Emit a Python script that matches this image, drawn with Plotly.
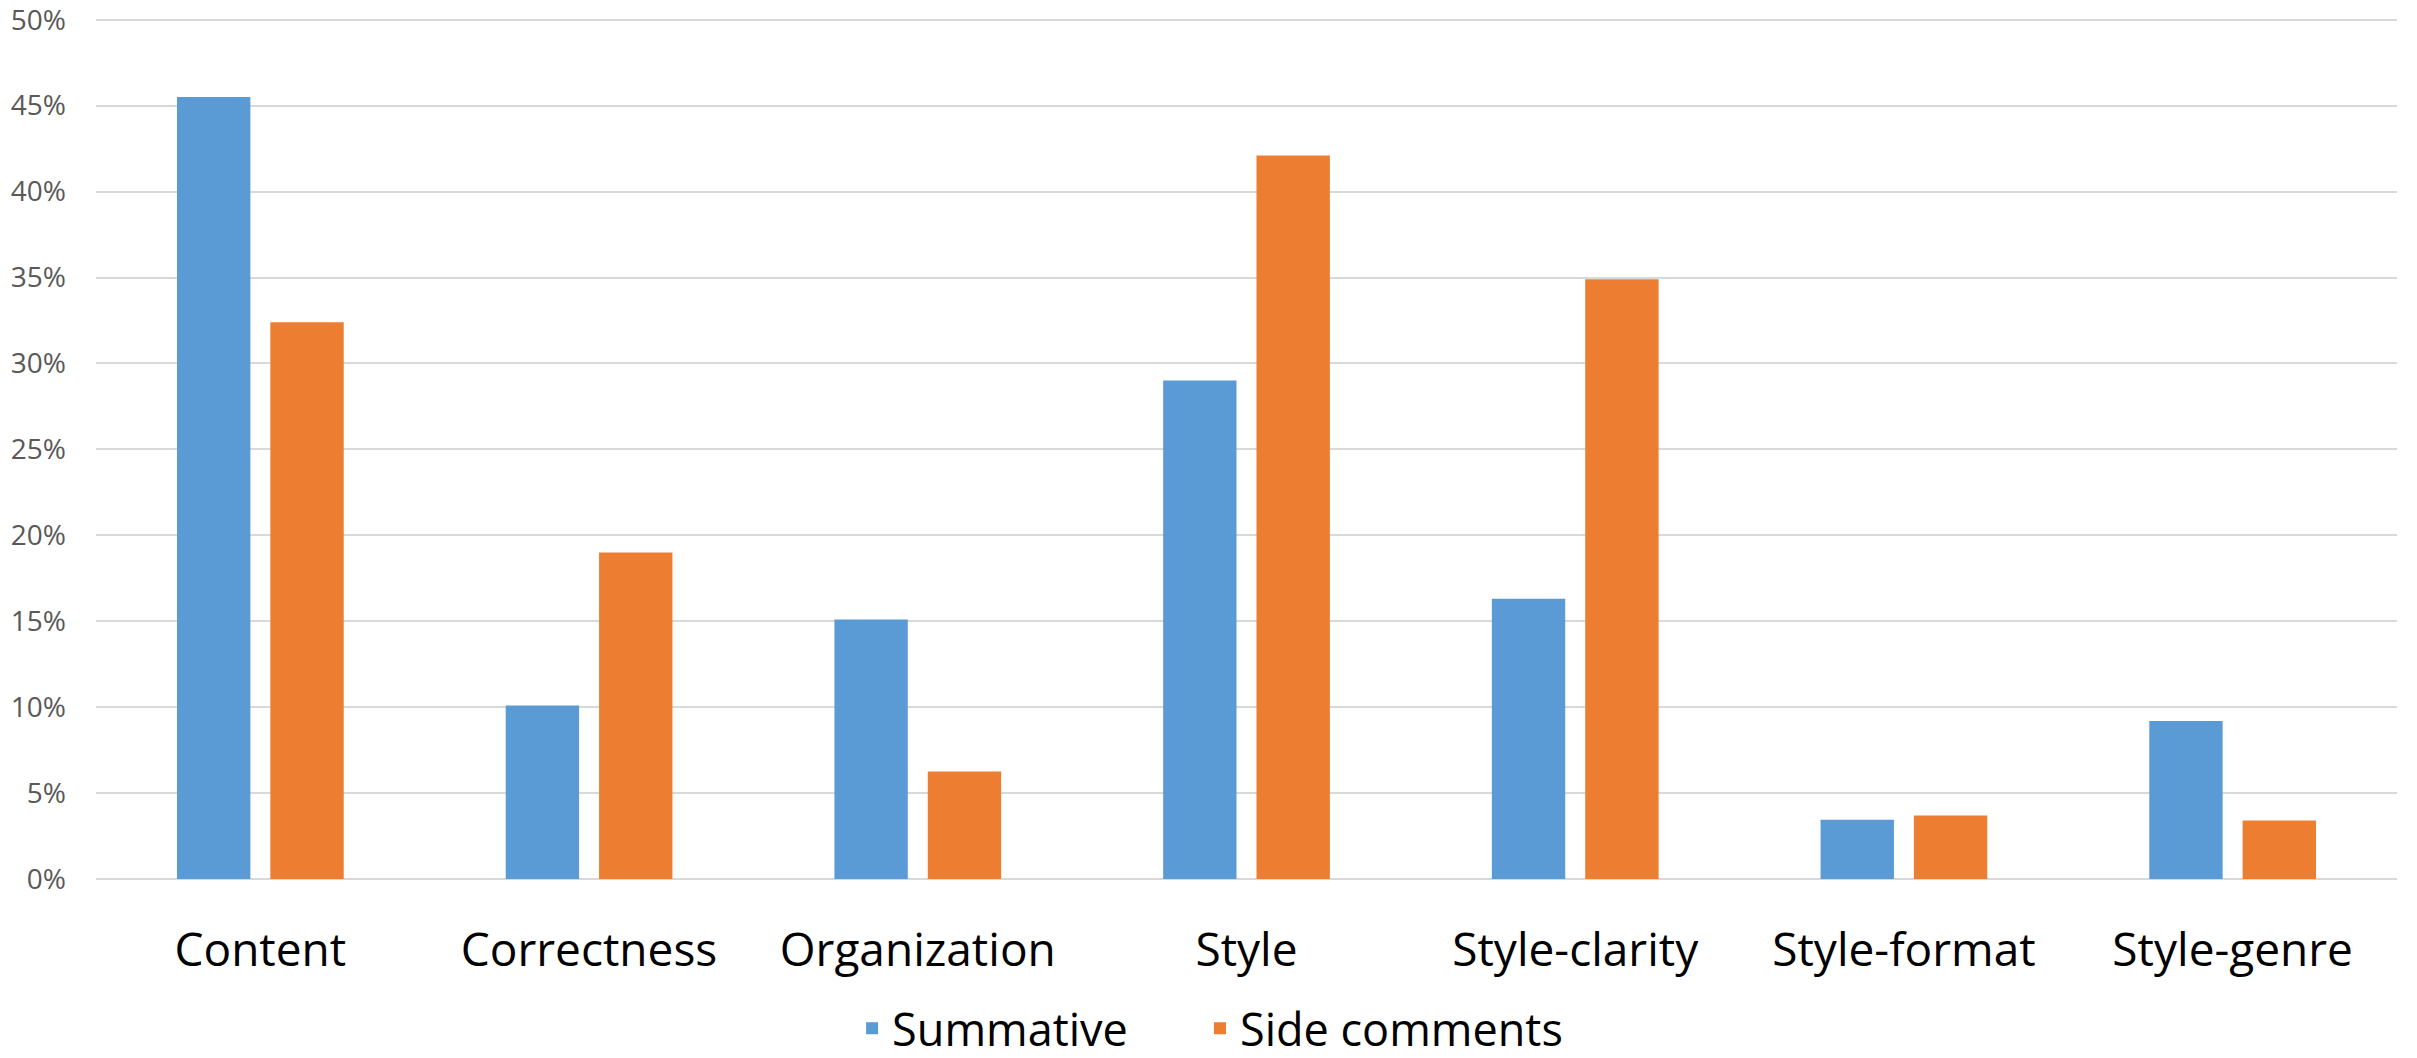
import plotly.graph_objects as go

categories = ["Content", "Correctness", "Organization", "Style", "Style-clarity", "Style-format", "Style-genre"]
summative = [0.455, 0.101, 0.151, 0.290, 0.163, 0.0345, 0.092]
side_comments = [0.324, 0.190, 0.0625, 0.421, 0.349, 0.037, 0.034]
y_ticks = [0, 0.05, 0.10, 0.15, 0.20, 0.25, 0.30, 0.35, 0.40, 0.45, 0.50]

FONT = "Open Sans, sans-serif"

fig = go.Figure()
fig.add_trace(go.Bar(name="Summative", x=categories, y=summative, legend="legend",
                     marker=dict(color="#5B9BD5", line=dict(width=0))))
fig.add_trace(go.Bar(name="Side comments", x=categories, y=side_comments, legend="legend2",
                     marker=dict(color="#ED7D31", line=dict(width=0))))

legend_style = dict(orientation="h", xanchor="left", y=-0.1735, yanchor="middle",
                    font=dict(family=FONT, size=45, color="#000000"),
                    itemwidth=30, bgcolor="rgba(0,0,0,0)")

fig.update_layout(
    width=2417, height=1058,
    margin=dict(l=96, r=20, t=18, b=179, autoexpand=False),
    plot_bgcolor="white", paper_bgcolor="white",
    barmode="group", bargap=0.432, bargroupgap=0.214,
    font=dict(family=FONT, color="#000000"),
    showlegend=True,
    legend=dict(x=0.3286, **legend_style),
    legend2=dict(x=0.4798, **legend_style),
)
fig.update_xaxes(showgrid=False, showline=False, zeroline=False, ticks="",
                 tickfont=dict(family=FONT, size=46, color="#000000"),
                 ticklabelstandoff=40)
fig.update_yaxes(range=[0, 0.501], tickvals=y_ticks, tickformat=".0%",
                 showgrid=True, gridcolor="#D9D9D9", gridwidth=2,
                 zeroline=True, zerolinecolor="#D9D9D9", zerolinewidth=2,
                 showline=False, ticks="", ticklabeloverflow="allow",
                 tickfont=dict(family=FONT, size=28, color="#595959"),
                 ticklabelstandoff=29)

fig.write_html("out.html")
